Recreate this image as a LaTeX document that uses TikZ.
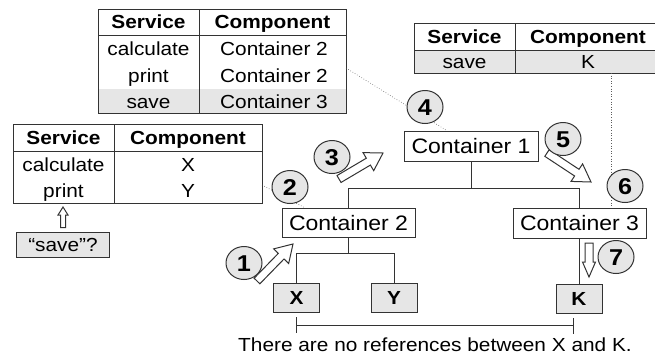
\documentclass[tikz,border=0pt]{standalone}
\usepackage{fontspec}
\setmainfont{Liberation Sans}[FakeStretch=1.1]
\usetikzlibrary{shapes.geometric,calc}
\definecolor{ln}{HTML}{333333}
\definecolor{sh}{HTML}{E6E6E6}
\newcommand\tfont{\fontsize{19}{22}\selectfont}
\newcommand\cfont{\fontsize{21}{24}\selectfont}
\newcommand\nfont{\fontsize{23}{25}\selectfont\bfseries}
% hollow block arrow: from, to, shaft half width, head half width, head length
\newcommand\blockarr[5]{%
  \coordinate (ba-h) at ($(#2)!#5!(#1)$);
  \draw[arrline] ($(#1)!#3!90:(#2)$) -- ($(ba-h)!#3!90:(#2)$) -- ($(ba-h)!#4!90:(#2)$)
    -- (#2) -- ($(ba-h)!#4!-90:(#2)$) -- ($(ba-h)!#3!-90:(#2)$) -- ($(#1)!#3!-90:(#2)$) -- cycle;}
\begin{document}
\begin{tikzpicture}[x=1bp,y=-1bp,
  tbl/.style={draw=ln, line width=1bp},
  cell/.style={inner sep=0pt, text height=13.6bp, text depth=0pt, font=\tfont},
  hcell/.style={cell, font=\tfont\bfseries},
  cbox/.style={draw=ln, line width=1bp, fill=white, inner sep=0pt, font=\cfont, text height=15bp, text depth=0pt},
  leaf/.style={draw=ln, line width=1bp, fill=sh, inner sep=0pt, minimum width=46bp, minimum height=29bp, font=\tfont\bfseries, text height=13.6bp, text depth=0pt},
  num/.style={ellipse, draw=ln, line width=1bp, fill=sh, minimum width=36bp, minimum height=33bp, inner sep=0pt, font=\nfont, text height=16.5bp, text depth=0pt},
  tree/.style={draw=ln, line width=1bp},
  dotl/.style={draw=ln!80, dotted, line width=0.6bp},
  arrline/.style={draw=ln, line width=1bp, fill=white, line join=miter},
]
\useasboundingbox (0,0) rectangle (655,358);
\clip (0,0) rectangle (655,358);

% ---- table 1 (top middle)
\fill[sh] (98,89) rectangle (346,113);
\draw[tbl] (98,9) rectangle (346,113);
\draw[tbl] (199,9) -- (199,113);
\draw[tbl] (98,35) -- (346,35);
\node[hcell] (t1h1) at (148.5,22) {Service};
\node[hcell] (t1h2) at (272.5,22) {Component};
\node[cell] (t1a1) at (148.5,49) {calculate};
\node[cell] (t1a2) at (274,49) {Container 2};
\node[cell] (t1b1) at (148.5,75.5) {print};
\node[cell] (t1b2) at (274,75.5) {Container 2};
\node[cell] (t1c1) at (148.5,101.5) {save};
\node[cell] (t1c2) at (274,101.5) {Container 3};
\coordinate (t1r) at (346,68);

% ---- table 2 (top right)
\fill[sh] (414,50) rectangle (662,73);
\draw[tbl] (414,23) rectangle (662,73);
\draw[tbl] (515,23) -- (515,73);
\draw[tbl] (414,50) -- (662,50);
\node[hcell] (t2h1) at (464.5,36.5) {Service};
\node[hcell] (t2h2) at (588,36.5) {Component};
\node[cell] (t2a1) at (464.5,62) {save};
\node[cell] (t2a2) at (588,62) {K};
\coordinate (t2b) at (611,73);

% ---- table 3 (left)
\draw[tbl] (13,124) rectangle (262,203);
\draw[tbl] (114,124) -- (114,203);
\draw[tbl] (13,151) -- (262,151);
\node[hcell] (t3h1) at (63.5,137.5) {Service};
\node[hcell] (t3h2) at (188,137.5) {Component};
\node[cell] (t3a1) at (63.5,164.5) {calculate};
\node[cell] (t3a2) at (188,164.5) {X};
\node[cell] (t3b1) at (63.5,190.5) {print};
\node[cell] (t3b2) at (188,190.5) {Y};
\coordinate (t3r) at (262,185);

% ---- save? box
\node[draw=ln, line width=1bp, fill=sh, minimum width=92bp, minimum height=25bp, inner sep=0pt, font=\tfont, text height=13.6bp, text depth=0pt] (q) at (63,244.5) {“save”?};

% ---- containers and leaves
\node[cbox, minimum width=134bp, minimum height=30bp] (c1) at (471,146) {Container 1};
\node[cbox, minimum width=133bp, minimum height=29bp] (c2) at (348.5,222.5) {Container 2};
\node[cbox, minimum width=133bp, minimum height=30bp] (c3) at (579.5,223) {Container 3};
\node[leaf] (X) at (296.5,297.5) {X};
\node[leaf] (Y) at (394,297.5) {Y};
\node[leaf] (K) at (579,298.5) {K};

% ---- tree
\draw[tree] (c1.south) -- (c1.south |- 0,188);
\draw[tree] (c2.north) -- (c2.north |- 0,188) -- (c3.north |- 0,188) -- (c3.north);
\draw[tree] (c2.south) -- (c2.south |- 0,253);
\draw[tree] (X.north) -- (X.north |- 0,253) -- (Y.north |- 0,253) -- (Y.north);
\draw[tree] (c3.south) -- (c3.south |- K.north);

% ---- bracket
\coordinate (bl) at (X.south |- 0,325);
\coordinate (br) at (573,325);
\draw[tree] (bl) -- (br);
\draw[tree] ($(bl)+(0,-8)$) -- ($(bl)+(0,8)$);
\draw[tree] ($(br)+(0,-7)$) -- ($(br)+(0,9)$);
\node[font=\tfont, inner sep=0pt, text height=13.6bp, text depth=0pt] (note) at (435,345) {There are no references between X and K.};

% ---- dotted links
\draw[dotl] (t1r) -- ($(c1.north west)!0.32!(c1.north east)$);
\draw[dotl] (t3r) -- ($(c2.north west)!0.17!(c2.north east)$);
\draw[dotl] (t2b) -- (t2b |- c3.north);

% ---- hollow arrows
\coordinate (u0) at ($(q.north)+(0,-4)$);
\coordinate (u1) at (63,207);
\blockarr{u0}{u1}{2.5bp}{5bp}{8bp}
\coordinate (a1s) at (257,281);
\coordinate (a1e) at (293,244);
\blockarr{a1s}{a1e}{4bp}{10.5bp}{17bp}
\coordinate (a3s) at (339,179);
\coordinate (a3e) at (383,153);
\blockarr{a3s}{a3e}{4bp}{10.5bp}{17bp}
\coordinate (a5s) at (547,153);
\coordinate (a5e) at (591,182);
\blockarr{a5s}{a5e}{4bp}{10.5bp}{17bp}
\coordinate (a7s) at (589,243);
\coordinate (a7e) at (589,277);
\blockarr{a7s}{a7e}{4bp}{6.5bp}{15bp}

% ---- numbered circles
\node[num] (n1) at (244,263) {1};
\node[num] (n2) at (290,187) {2};
\node[num] (n3) at (332,157) {3};
\node[num] (n4) at (425,107) {4};
\node[num] (n5) at (563,139) {5};
\node[num] (n6) at (625,186) {6};
\node[num] (n7) at (616,257) {7};
\end{tikzpicture}
\end{document}
